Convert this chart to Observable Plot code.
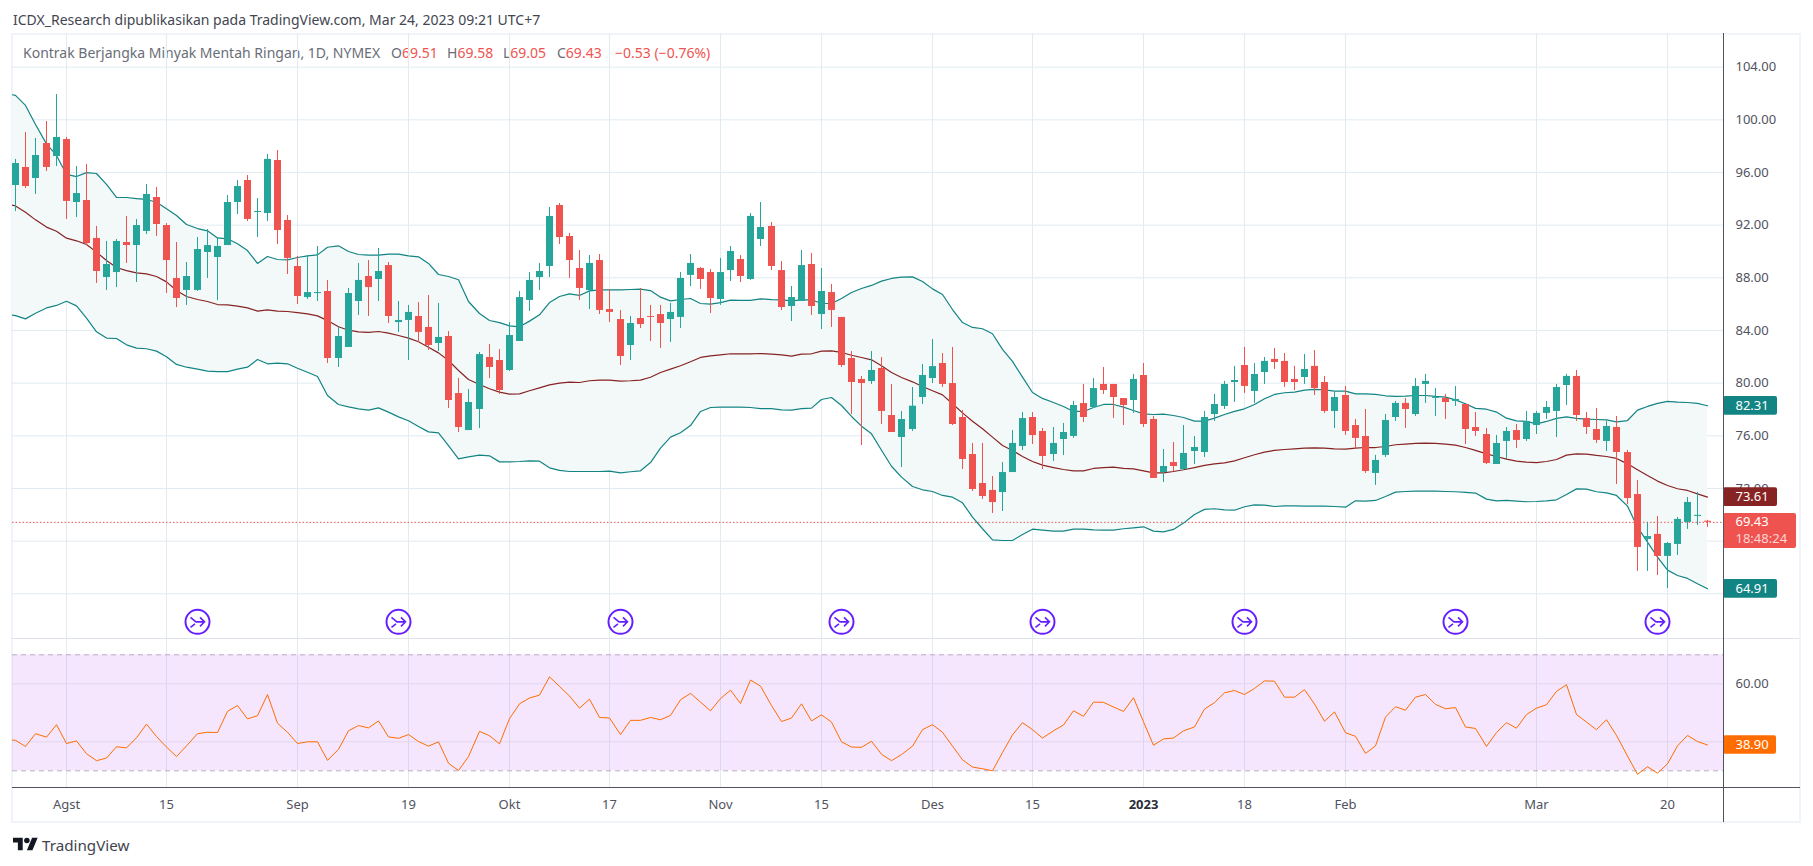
<!DOCTYPE html>
<html lang="id">
<head>
<meta charset="utf-8">
<title>Kontrak Berjangka Minyak Mentah Ringan</title>
<script src="https://cdn.jsdelivr.net/npm/d3@7"></script>
<script src="https://cdn.jsdelivr.net/npm/@observablehq/plot@0.6"></script>
<style>
html,body{margin:0;padding:0;background:#fff;overflow:hidden}
#page{position:relative;width:1813px;height:866px;font-family:"Noto Sans",sans-serif;overflow:hidden}
#page svg{position:absolute;background:transparent;max-width:none}
.t{position:absolute;white-space:nowrap;line-height:18px}
.f{position:absolute}
</style>
</head>
<body>
<div id="page">
  <div class="f" style="left:12px;top:33px;width:1787px;height:2px;background:#f0f3fa"></div>
  <div class="f" style="left:11px;top:33px;width:2px;height:789px;background:#f0f3fa"></div>
  <div class="f" style="left:1799px;top:33px;width:2px;height:789px;background:#f0f3fa"></div>
  <div class="f" style="left:11px;top:821px;width:1790px;height:2px;background:#f0f3fa"></div>
  <div class="t" style="left:13px;top:11px;font-size:14px;color:#434651" id="pub">ICDX_Research dipublikasikan pada TradingView.com, Mar 24, 2023 09:21 UTC+7</div>
  <div class="t" style="left:23px;top:44px;font-size:14px;color:#6a6d78">Kontrak Berjangka Minyak Mentah Ringan, 1D, NYMEX</div>
  <div class="t" style="left:391px;top:44px;font-size:14px;color:#6a6d78">O<span style="color:#ef5350">69.51</span></div>
  <div class="t" style="left:447px;top:44px;font-size:14px;color:#6a6d78">H<span style="color:#ef5350">69.58</span></div>
  <div class="t" style="left:503px;top:44px;font-size:14px;color:#6a6d78">L<span style="color:#ef5350">69.05</span></div>
  <div class="t" style="left:557px;top:44px;font-size:14px;color:#6a6d78">C<span style="color:#ef5350">69.43</span></div>
  <div class="t" style="left:615px;top:44px;font-size:14px;color:#ef5350">−0.53 (−0.76%)</div>
  <svg style="left:13px;top:836px" width="25" height="16" viewBox="0 2 36 22"><path fill="#131722" d="M14 22H7V11H0V4h14v18zM28 22h-8l7.5-18h8L28 22z"/><circle fill="#131722" cx="20" cy="8" r="4"/></svg>
  <div class="t" style="left:42px;top:836px;font-size:15.2px;color:#3f434f">TradingView</div>
  <div id="main"></div>
  <div id="rsi"></div>
  <div class="f" style="left:12px;top:638px;width:1787px;height:1px;background:#e0e3eb"></div>
  <div class="f" style="left:12px;top:787px;width:1788px;height:1px;background:#50535e"></div>
  <div class="f" style="left:1723px;top:33px;width:1px;height:789px;background:#50535e"></div>
</div>
<script>
const open = [
95.01,96.38,95.54,98.20,97.21,98.50,93.72,93.87,90.99,88.02,
88.40,90.68,90.45,91.52,94.10,91.97,87.95,87.04,87.04,89.92,
89.54,90.45,93.72,95.39,92.96,92.88,96.91,92.35,88.86,86.50,
86.80,86.96,81.87,82.71,86.20,88.10,87.87,88.93,84.60,84.76,
85.06,84.23,83.01,83.54,79.21,76.40,78.00,81.95,81.72,80.96,
83.16,86.28,88.02,88.86,93.49,91.14,88.71,87.03,89.31,85.59,
84.83,82.86,84.91,85.06,85.21,84.83,84.99,88.18,88.71,88.40,
86.35,88.55,89.39,87.87,90.91,91.90,88.55,85.82,86.20,89.01,
85.21,86.88,84.99,81.87,80.28,80.12,81.11,77.54,75.87,76.48,
78.91,80.35,81.49,79.97,77.39,74.58,72.38,71.85,71.69,73.21,
75.19,77.39,76.33,74.58,75.72,75.95,78.45,78.15,79.90,79.90,
78.83,78.68,80.58,77.24,73.21,73.97,73.44,74.81,74.73,77.62,
78.23,80.05,81.34,79.37,80.81,81.80,81.65,80.28,80.43,81.27,
80.05,77.85,79.06,76.78,75.95,73.14,74.51,77.39,78.46,77.62,
79.90,78.84,78.84,78.61,78.38,76.63,76.10,73.82,75.57,76.40,
75.72,76.78,77.70,77.85,79.82,80.51,77.32,76.48,75.57,76.63,
74.73,71.54,68.13,68.51,66.84,67.75,69.42,69.88,69.51];
const close = [
96.68,94.93,97.29,96.38,98.66,93.80,94.40,90.60,88.48,89.01,
90.76,90.45,91.97,94.33,92.05,89.31,86.43,88.10,90.15,90.45,
90.38,93.72,94.93,92.43,93.04,96.99,91.59,89.47,86.58,86.88,
86.88,81.87,83.54,86.81,87.80,87.26,88.48,85.06,84.76,85.37,
83.85,82.86,83.47,78.68,76.63,78.53,82.17,81.19,79.44,83.62,
86.50,87.80,88.48,92.66,91.06,89.31,87.19,89.09,85.52,85.37,
82.02,84.53,84.45,84.99,84.53,85.37,87.95,89.09,87.87,86.43,
88.40,90.00,88.10,92.66,91.82,88.86,85.74,86.50,88.93,85.82,
86.96,85.52,81.34,80.05,79.97,80.96,77.85,76.25,77.24,78.25,
80.58,81.26,79.90,76.86,74.20,71.92,71.39,70.93,73.21,75.42,
77.31,76.02,74.43,75.42,76.25,78.30,77.39,79.59,79.44,78.91,
78.30,80.28,76.86,72.76,73.67,73.67,74.66,75.11,77.39,78.38,
79.90,80.20,79.75,80.66,81.65,81.57,80.05,80.05,81.04,79.59,
77.85,78.91,76.33,75.80,73.29,74.13,77.16,78.46,78.00,79.75,
80.13,78.92,78.53,78.76,76.48,76.33,73.90,75.42,76.33,75.65,
77.09,77.70,78.15,79.67,80.51,77.54,76.63,75.65,76.71,74.73,
71.24,67.52,68.35,66.84,67.82,69.65,70.94,69.96,69.43];
const high = [
96.99,99.04,98.58,99.87,101.92,98.66,96.45,96.60,91.90,90.76,
90.91,92.66,92.43,95.09,94.86,92.12,90.68,89.16,91.06,91.67,
90.99,94.25,95.39,95.77,94.02,97.37,97.67,92.73,89.62,89.62,
90.38,87.79,84.23,87.19,89.09,89.31,90.23,89.16,86.20,85.90,
86.12,86.66,86.05,83.92,80.35,79.52,82.33,82.93,82.55,84.60,
86.96,88.40,89.09,93.34,93.64,91.37,90.07,89.69,89.77,87.11,
85.52,85.06,87.19,85.90,85.90,86.05,88.40,89.77,88.78,88.63,
89.47,90.38,89.69,92.88,93.72,92.20,89.24,87.34,90.07,89.85,
88.71,87.49,84.99,82.40,80.51,82.40,81.95,79.90,77.85,79.67,
81.42,83.32,82.25,82.71,77.92,75.42,75.42,72.91,73.97,76.40,
77.77,77.77,76.56,76.63,76.94,78.61,79.90,80.35,81.19,79.90,
78.83,80.66,81.49,77.47,74.96,75.49,76.78,75.95,77.85,79.14,
80.13,81.27,82.71,81.49,81.95,82.63,82.25,81.27,82.18,82.48,
80.51,79.29,79.75,77.24,78.00,74.51,77.62,78.61,78.83,80.35,
80.66,79.59,79.14,79.75,78.38,77.77,76.56,76.03,76.63,76.86,
77.85,77.85,78.61,79.90,80.66,80.96,77.77,78.08,77.09,77.47,
74.89,72.61,69.42,69.87,67.90,69.80,71.32,71.70,69.58];
const low = [
93.03,94.78,94.33,96.07,96.45,92.43,92.58,90.45,87.57,87.04,
87.26,89.09,87.64,91.29,91.14,86.81,85.74,85.90,86.96,87.95,
86.27,90.45,92.81,92.27,91.06,92.27,90.53,88.25,85.97,86.35,
86.20,81.49,81.19,82.71,85.14,85.06,86.20,84.53,83.85,81.72,
83.09,82.48,82.40,78.07,76.25,76.40,76.55,80.35,79.14,80.88,
83.16,85.44,87.03,88.02,90.53,87.95,86.28,85.59,85.21,84.60,
81.34,81.72,84.15,83.16,82.63,83.09,84.15,87.34,87.11,85.29,
85.90,87.72,87.64,87.80,90.38,88.55,85.52,84.68,86.20,85.14,
84.07,84.23,81.19,77.62,75.26,79.90,76.86,76.25,73.59,76.33,
78.38,79.97,79.67,76.78,73.44,71.77,71.16,70.10,70.25,73.21,
74.88,75.34,73.44,74.05,74.50,75.80,77.01,78.07,79.14,77.31,
76.78,77.69,76.63,72.76,72.45,73.29,73.37,73.82,74.35,77.09,
78.00,78.53,79.22,78.46,79.90,81.04,79.67,79.44,79.90,79.06,
77.70,76.56,76.03,74.96,73.14,72.23,74.35,77.09,76.56,77.47,
78.46,77.47,77.24,78.23,75.34,75.95,73.82,73.82,74.20,75.04,
75.57,76.10,77.24,75.87,78.30,77.09,76.10,75.42,74.81,72.30,
70.78,65.70,65.70,65.39,64.40,66.91,68.89,69.19,69.05];

// Bollinger bands: the first value belongs to the bar just before the visible window
const upperBand = [102.00,
101.85,101.09,99.64,98.17,97.29,95.85,95.69,95.99,95.92,95.09,
94.10,94.10,94.02,93.95,93.74,93.24,92.73,92.05,91.74,91.57,
91.03,90.96,90.58,90.07,89.09,89.62,89.39,89.36,89.54,89.66,
89.74,90.32,90.43,90.00,89.77,89.72,89.72,89.80,89.80,89.67,
89.59,89.09,88.25,88.10,87.85,86.20,85.29,84.76,84.60,84.35,
84.28,84.71,85.19,86.12,86.58,86.78,86.66,87.01,87.09,87.09,
87.09,87.11,87.14,87.03,86.53,86.25,86.35,86.43,86.05,86.00,
86.12,86.30,86.28,86.28,86.40,86.35,86.33,86.25,86.33,86.33,
86.05,86.05,86.43,86.88,87.19,87.42,87.75,87.95,88.05,88.07,
87.72,87.16,86.73,85.59,84.60,84.23,84.13,83.75,82.56,81.65,
80.46,79.29,78.84,78.53,78.23,77.85,77.85,78.15,78.38,78.38,
78.18,77.92,77.67,77.62,77.65,77.54,77.39,77.11,77.11,77.34,
77.62,77.85,78.05,78.38,78.81,79.14,79.27,79.32,79.47,79.52,
79.49,79.39,79.39,79.19,79.19,79.14,79.04,78.99,79.01,79.06,
79.06,78.99,78.94,78.73,78.43,78.08,78.02,77.80,77.34,77.14,
77.09,76.91,77.09,77.32,77.44,77.32,77.27,77.24,77.21,77.06,
77.16,77.95,78.23,78.46,78.61,78.56,78.53,78.46,78.28];
const basisBand = [93.64,
93.46,92.98,92.40,91.85,91.54,91.01,90.81,90.53,89.95,89.31,
88.78,88.55,88.38,88.30,88.10,87.69,87.04,86.58,86.35,86.20,
85.97,85.95,85.85,85.72,85.47,85.57,85.47,85.44,85.36,85.26,
85.11,84.75,84.28,84.02,83.90,83.85,83.92,83.80,83.62,83.42,
83.14,82.73,82.30,81.72,80.96,80.28,79.90,79.57,79.32,79.17,
79.19,79.42,79.64,79.87,80.00,80.07,80.05,80.18,80.23,80.23,
80.15,80.18,80.23,80.45,80.81,81.06,81.32,81.62,81.95,82.07,
82.15,82.23,82.23,82.23,82.25,82.20,82.15,82.05,82.20,82.23,
82.43,82.45,82.33,82.12,81.95,81.77,81.32,80.81,80.43,80.10,
79.75,79.42,79.11,78.43,77.74,77.11,76.53,75.90,75.27,74.89,
74.43,74.05,73.77,73.59,73.44,73.34,73.34,73.52,73.59,73.62,
73.52,73.49,73.34,73.19,73.19,73.29,73.42,73.59,73.75,73.87,
73.95,74.10,74.33,74.56,74.76,74.89,74.96,75.01,75.06,75.09,
75.06,75.01,74.99,75.06,75.11,75.11,75.19,75.32,75.37,75.42,
75.44,75.42,75.37,75.29,75.11,74.89,74.63,74.43,74.23,74.08,
74.00,73.97,74.05,74.20,74.53,74.63,74.61,74.51,74.43,74.28,
73.87,73.42,72.99,72.56,72.23,71.98,71.85,71.59,71.34];
const lowerBand = [85.23,
85.13,84.88,85.31,85.71,85.90,86.22,85.87,84.93,83.90,83.42,
83.39,82.91,82.66,82.61,82.43,82.00,81.42,81.21,81.06,80.91,
80.88,80.88,81.06,81.21,81.79,81.47,81.52,81.47,81.13,80.83,
80.50,79.06,78.38,78.20,78.05,77.95,78.12,77.80,77.44,77.14,
76.71,76.30,76.23,75.26,74.25,74.40,74.53,74.48,74.02,74.02,
74.05,74.10,74.07,73.57,73.37,73.29,73.29,73.29,73.29,73.32,
73.19,73.27,73.34,73.97,75.06,75.90,76.23,76.78,77.85,78.15,
78.18,78.18,78.18,78.15,78.07,78.07,77.97,77.95,78.07,78.10,
78.76,78.91,78.30,77.47,76.73,76.15,74.90,73.69,72.86,72.15,
71.90,71.77,71.47,71.34,70.91,69.82,68.94,68.10,68.05,68.05,
68.51,68.91,68.83,68.76,68.76,68.91,68.91,68.86,68.83,68.83,
68.94,69.01,69.09,68.76,68.71,68.89,69.37,70.03,70.41,70.46,
70.38,70.35,70.61,70.76,70.73,70.63,70.68,70.68,70.66,70.66,
70.66,70.63,70.58,71.06,71.04,71.09,71.39,71.72,71.77,71.80,
71.80,71.80,71.77,71.75,71.70,71.65,71.19,71.06,71.09,71.04,
70.99,71.01,71.06,71.14,71.54,71.97,71.95,71.75,71.67,71.47,
70.66,69.06,67.92,66.78,65.80,65.39,65.17,64.76,64.38];
const rsiValues = [40.8,
40.5,38.4,42.8,41.6,45.9,39.4,40.3,35.9,33.5,34.4,
38.3,37.9,41.4,46.1,41.8,38.2,34.9,38.6,42.8,43.3,
43.2,50.5,52.5,47.9,49.0,56.3,46.4,43.3,39.4,40.0,
40.0,33.6,37.4,43.8,45.6,44.8,47.2,41.7,41.2,42.5,
40.1,38.5,40.0,32.6,30.1,34.9,43.6,42.1,39.3,48.0,
53.1,55.1,56.1,62.4,59.1,55.8,51.6,54.7,48.4,48.2,
42.5,47.4,47.4,48.4,47.6,49.1,54.5,56.7,53.7,50.7,
54.9,57.8,53.2,61.3,59.2,52.5,47.0,48.2,53.1,47.2,
49.3,46.8,40.0,38.2,38.1,40.2,35.7,33.5,35.6,38.5,
44.2,45.9,43.3,38.5,33.8,31.3,30.7,30.0,36.3,42.4,
46.6,44.2,41.3,43.8,45.8,50.7,48.8,53.7,53.6,52.0,
50.5,55.2,46.9,38.8,41.0,41.3,43.8,45.1,51.3,53.5,
56.9,57.7,56.3,58.4,61.0,60.9,55.4,55.4,58.0,53.0,
47.1,50.3,43.1,41.9,36.0,38.6,48.5,52.1,50.9,55.4,
56.3,52.9,51.4,51.8,45.1,44.6,38.4,43.2,46.6,44.7,
49.4,51.6,52.8,57.4,59.7,49.4,46.8,44.2,47.6,42.2,
35.1,28.8,31.4,29.2,32.4,38.6,42.2,40.1,38.9];

const timeTickBars = [5,15,28,39,49,59,70,80,91,101,122,132,151,164];
const timeTickNames = ["Agst","15","Sep","19","Okt","17","Nov","15","Des","15","18","Feb","Mar","20"];
const yearTickBar = [112];
const yearTickName = ["2023"];
const priceAxisTicks = [104,100,96,92,88,84,80,76,72];
const priceGridTicks = [104,100,96,92,88,84,80,76,72,68,64];
const rsiAxisTicks = [60];
const rsiGridTicks = [60,40];
const rsiBounds = [30,70];
const eventBars = [18,38,60,82,102,122,143,163];
const eventLevel = 61.87;

const RED = "#ef5350", GREEN = "#26a69a", TEAL = "#138484", BROWN = "#872323", ORANGE = "#ff6d00";
const GRID = "#e1ecf2", AXIS_TEXT = "#50535e", PURPLE = "#651fff";
const FONT = "'Noto Sans',sans-serif";
const barsDomain = [-0.3277, 169.58];
const last = close.length - 1;
const candles = open.map((o,i)=>({i,o,c:close[i],h:high[i],l:low[i],col:close[i]<o?RED:GREEN}));
const bands = upperBand.map((u,k)=>({i:k-1,u,b:basisBand[k],d:lowerBand[k]}));
const rsi = rsiValues.map((v,k)=>({i:k-1,v}));
const H = 0.71;
const priceBoxes = [
  {text:"82.31",value:upperBand.at(-1),fill:TEAL,end:174.9},
  {text:"73.61",value:basisBand.at(-1),fill:BROWN,end:174.9},
  {text:"64.91",value:lowerBand.at(-1),fill:TEAL,end:174.9}
];
const mergeSymbol = {draw(ctx){
  ctx.moveTo(-7,-4.5); ctx.lineTo(-1.5,0); ctx.lineTo(7,0);
  ctx.moveTo(2.5,-4.5); ctx.lineTo(7,0); ctx.lineTo(2.5,4.5);
  ctx.moveTo(-2.5,2); ctx.lineTo(-7,5.5);
}};

const main = Plot.plot({
  width:1813,height:638,marginLeft:12,marginRight:90,marginTop:33,marginBottom:0,
  style:{background:"transparent",fontFamily:FONT,fontSize:"13px",left:"0",top:"0"},
  x:{domain:barsDomain,axis:null,round:true},
  y:{domain:[60.606,106.554]},
  marks:[
    Plot.ruleY(priceGridTicks,{stroke:GRID}),
    Plot.ruleX(timeTickBars.concat(yearTickBar),{stroke:GRID}),
    Plot.areaY(bands,{x:"i",y1:"d",y2:"u",fill:"#f3f9f9",clip:true}),
    Plot.ruleY([close[last]],{stroke:RED,strokeDasharray:"1.5 2"}),
    Plot.line(bands,{x:"i",y:"u",stroke:TEAL,strokeWidth:1.2,clip:true}),
    Plot.line(bands,{x:"i",y:"d",stroke:TEAL,strokeWidth:1.2,clip:true}),
    Plot.line(bands,{x:"i",y:"b",stroke:BROWN,strokeWidth:1.2,clip:true}),
    Plot.ruleX(candles,{x:"i",y1:"l",y2:"h",stroke:"col",strokeWidth:1}),
    Plot.ruleX(candles,{x:"i",y1:"o",y2:"c",stroke:"col",strokeWidth:7,clip:true}),
    Plot.dot(eventBars,{x:d=>d,y:()=>eventLevel,r:12,fill:"#fff",stroke:PURPLE,strokeWidth:2}),
    Plot.dot(eventBars,{x:d=>d,y:()=>eventLevel,r:12,symbol:mergeSymbol,fill:"none",stroke:PURPLE,strokeWidth:1.6}),
    Plot.axisY(priceAxisTicks,{anchor:"right",tickSize:0,tickPadding:12,tickFormat:d3.format(".2f"),color:AXIS_TEXT,label:null,fontSize:13}),
    Plot.rect(priceBoxes,{x1:()=>barsDomain[1],x2:"end",y1:d=>d.value-H,y2:d=>d.value+H,fill:"fill",r:2}),
    Plot.text(priceBoxes,{x:()=>barsDomain[1],y:"value",text:"text",dx:12,textAnchor:"start",fill:"#fff",fontSize:13}),
    Plot.rect([close[last]],{x1:()=>barsDomain[1],x2:()=>176.85,y1:()=>70.1,y2:()=>67.44,fill:RED,r:2}),
    Plot.text([close[last]],{x:()=>barsDomain[1],y:d=>d,text:d=>d3.format(".2f")(d),dx:12,textAnchor:"start",fill:"#fff",fontSize:13}),
    Plot.text(["18:48:24"],{x:()=>barsDomain[1],y:()=>close[last],text:d=>d,dx:12,dy:17,textAnchor:"start",fill:"#fbd4d3",fontSize:13})
  ]
});
main.style.left="0";main.style.top="0";
document.getElementById("main").append(main);

const rsiPlot = Plot.plot({
  width:1813,height:184,marginLeft:12,marginRight:90,marginTop:0,marginBottom:34,
  style:{background:"transparent",fontFamily:FONT,fontSize:"13px"},
  x:{domain:barsDomain,round:true},
  y:{domain:[23.9,75.62]},
  marks:[
    Plot.ruleX(timeTickBars.concat(yearTickBar),{stroke:GRID}),
    Plot.rect([rsiBounds],{x1:()=>barsDomain[0],x2:()=>barsDomain[1],y1:d=>d[0],y2:d=>d[1],fill:"#a01ff0",fillOpacity:0.11}),
    Plot.ruleY(rsiGridTicks,{stroke:"#e2d6ee"}),
    Plot.ruleY(rsiBounds,{stroke:"#b8adc2",strokeDasharray:"5 4"}),
    Plot.line(rsi,{x:"i",y:"v",stroke:ORANGE,strokeWidth:1,clip:true}),
    Plot.axisX(timeTickBars,{anchor:"bottom",tickSize:0,tickPadding:11,tickFormat:(d,k)=>timeTickNames[k],color:AXIS_TEXT,label:null,fontSize:13}),
    Plot.axisX(yearTickBar,{anchor:"bottom",tickSize:0,tickPadding:11,tickFormat:(d,k)=>yearTickName[k],color:"#2a2e39",fontWeight:"bold",label:null,fontSize:13}),
    Plot.axisY(rsiAxisTicks,{anchor:"right",tickSize:0,tickPadding:12,tickFormat:d3.format(".2f"),color:AXIS_TEXT,label:null,fontSize:13}),
    Plot.rect([rsiValues.at(-1)],{x1:()=>barsDomain[1],x2:()=>174.8,y1:d=>d-3.2,y2:d=>d+3.2,fill:ORANGE,r:2}),
    Plot.text([rsiValues.at(-1)],{x:()=>barsDomain[1],y:d=>d,text:d=>d3.format(".2f")(d),dx:12,textAnchor:"start",fill:"#fff",fontSize:13})
  ]
});
rsiPlot.style.left="0";rsiPlot.style.top="638px";
document.getElementById("rsi").append(rsiPlot);
</script>
</body>
</html>
